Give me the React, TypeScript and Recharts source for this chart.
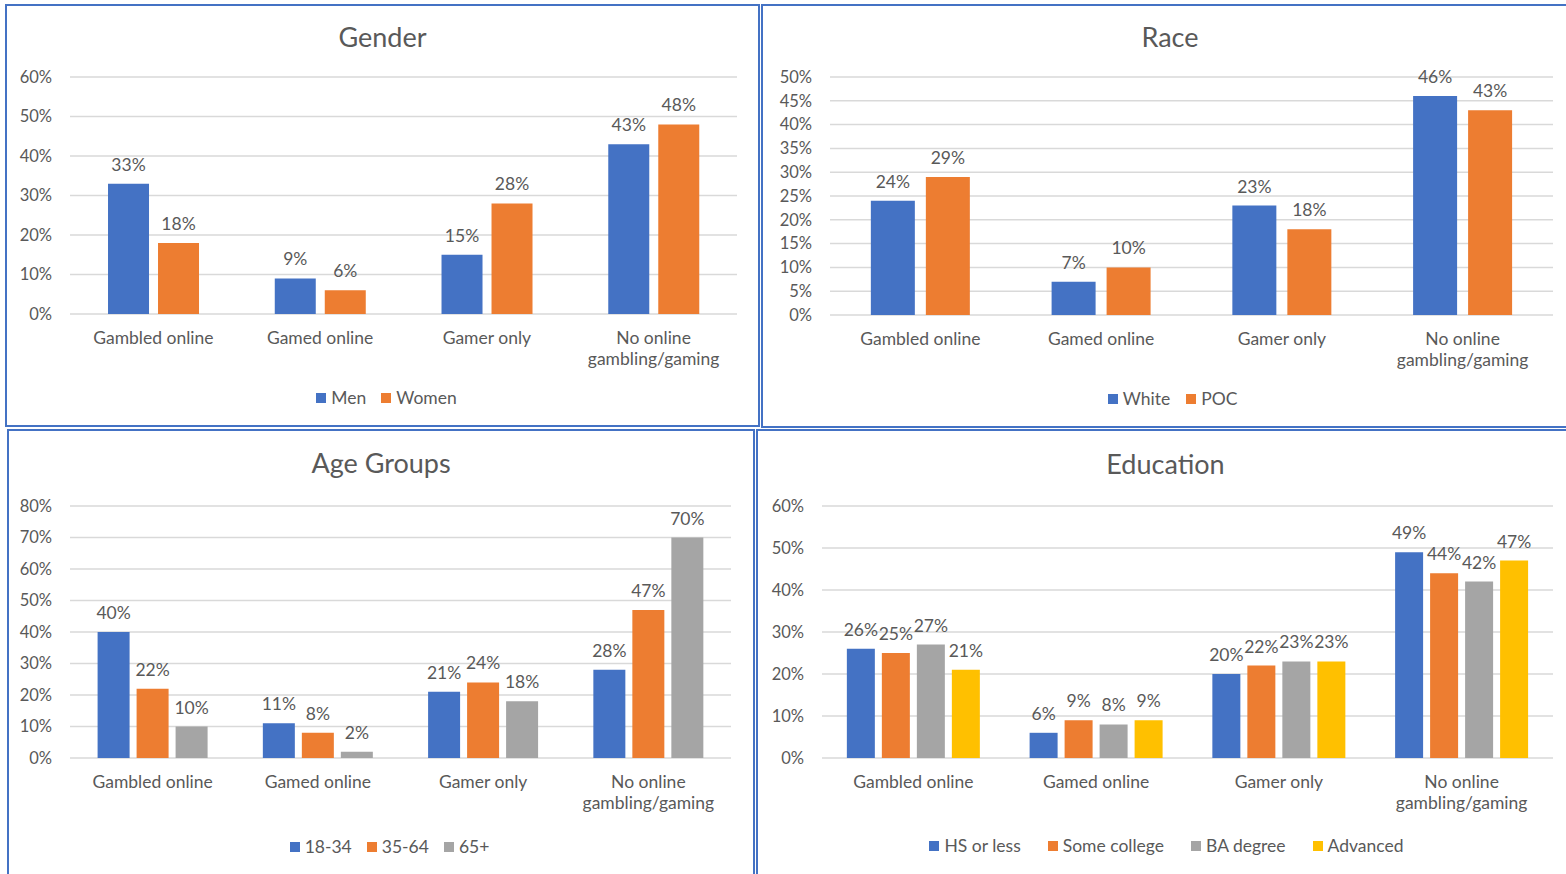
import React from 'react';
import { BarChart, Bar, XAxis, YAxis, CartesianGrid, Legend, LabelList } from 'recharts';

// categories shared by all four panels
const categories = ['Gambled online', 'Gamed online', 'Gamer only', 'No online\ngambling/gaming'];

// Gender
const genderMen = [33, 9, 15, 43];
const genderWomen = [18, 6, 28, 48];
const genderTicks = [0, 10, 20, 30, 40, 50, 60];

// Race
const raceWhite = [24, 7, 23, 46];
const racePoc = [29, 10, 18, 43];
const raceTicks = [0, 5, 10, 15, 20, 25, 30, 35, 40, 45, 50];

// Age groups
const age1834 = [40, 11, 21, 28];
const age3564 = [22, 8, 24, 47];
const age65 = [10, 2, 18, 70];
const ageTicks = [0, 10, 20, 30, 40, 50, 60, 70, 80];

// Education
const eduHs = [26, 6, 20, 49];
const eduSome = [25, 9, 22, 44];
const eduBa = [27, 8, 23, 42];
const eduAdv = [21, 9, 23, 47];
const eduTicks = [0, 10, 20, 30, 40, 50, 60];

const BLUE = '#4472C4';
const ORANGE = '#ED7D31';
const GRAY = '#A5A5A5';
const YELLOW = '#FFC000';
const TEXT = '#595959';
const FONT = 'Lato, "Open Sans", sans-serif';

type Series = { key: string; name: string; color: string; values: number[] };

const buildRows = (series: Series[]) =>
  categories.map((c, i) => {
    const row: Record<string, any> = { category: c };
    series.forEach(s => {
      row[s.key] = s.values[i];
    });
    return row;
  });

const CategoryTick = (props: any) => {
  const { x, y, payload } = props;
  const lines = String(payload.value).split('\n');
  return (
    <text x={x} y={y} textAnchor="middle" fill={TEXT} fontSize={17.5} fontFamily={FONT}>
      {lines.map((l, i) => (
        <tspan key={i} x={x} dy={i === 0 ? 22 : 21}>
          {l}
        </tspan>
      ))}
    </text>
  );
};

interface PanelProps {
  title: string;
  series: Series[];
  ticks: number[];
  box: { left: number; top: number; width: number; height: number };
  border: { left: number; top: number; width: number; height: number };
  margin: { top: number; right: number; left: number; bottom: number };
  titleTop: number;
  titleShift: number;
  legendShift: number;
  legendGap: number;
  xAxisHeight: number;
  catGap: string;
  barGap: number;
}

const Panel: React.FC<PanelProps> = ({
  title,
  series,
  ticks,
  box,
  border,
  margin,
  titleTop,
  titleShift,
  legendShift,
  legendGap,
  xAxisHeight,
  catGap,
  barGap,
}) => {
  const data = buildRows(series);
  return (
    <>
      <div
        style={{
          position: 'absolute',
          left: border.left,
          top: border.top,
          width: border.width,
          height: border.height,
          border: `2px solid ${BLUE}`,
          boxSizing: 'border-box',
        }}
      />
      <div
        style={{
          position: 'absolute',
          left: box.left + titleShift,
          top: titleTop,
          width: box.width,
          textAlign: 'center',
          fontSize: 27,
          color: TEXT,
          fontFamily: FONT,
          lineHeight: '30px',
        }}
      >
        {title}
      </div>
      <div style={{ position: 'absolute', left: box.left, top: box.top }}>
        <BarChart
          width={box.width}
          height={box.height}
          data={data}
          margin={margin}
          barCategoryGap={catGap}
          barGap={barGap}
        >
          <CartesianGrid vertical={false} stroke="#D9D9D9" strokeWidth={1.5} />
          <XAxis
            dataKey="category"
            axisLine={false}
            tickLine={false}
            interval={0}
            height={xAxisHeight}
            tick={<CategoryTick />}
          />
          <YAxis
            width={50}
            domain={[0, ticks[ticks.length - 1]]}
            ticks={ticks}
            interval={0}
            axisLine={false}
            tickLine={false}
            tickMargin={12}
            tickFormatter={(v: number) => `${v}%`}
            tick={{ fill: TEXT, fontSize: 16.5, fontFamily: FONT }}
          />
          <Legend
            verticalAlign="bottom"
            content={() => (
              <div
                style={{
                  display: 'flex',
                  justifyContent: 'center',
                  alignItems: 'center',
                  height: 20,
                  lineHeight: '20px',
                  transform: `translateX(${legendShift}px)`,
                  fontFamily: FONT,
                  fontSize: 17.5,
                  color: TEXT,
                }}
              >
                {series.map((s, i) => (
                  <span
                    key={s.key}
                    style={{ display: 'flex', alignItems: 'center', marginLeft: i === 0 ? 0 : legendGap }}
                  >
                    <span
                      style={{ display: 'inline-block', width: 10, height: 10, background: s.color, marginRight: 5 }}
                    />
                    {s.name}
                  </span>
                ))}
              </div>
            )}
          />
          {series.map(s => (
            <Bar key={s.key} dataKey={s.key} name={s.name} fill={s.color} isAnimationActive={false}>
              <LabelList
                dataKey={s.key}
                position="top"
                offset={13}
                formatter={(v: any) => `${v}%`}
                fill={TEXT}
                fontSize={17.5}
                fontFamily={FONT}
              />
            </Bar>
          ))}
        </BarChart>
      </div>
    </>
  );
};

export default function App() {
  return (
    <div
      style={{
        position: 'absolute',
        left: 0,
        top: 0,
        width: 1566,
        height: 874,
        overflow: 'hidden',
        background: '#fff',
        fontFamily: FONT,
      }}
    >
      <Panel
        title="Gender"
        series={[
          { key: 'men', name: 'Men', color: BLUE, values: genderMen },
          { key: 'women', name: 'Women', color: ORANGE, values: genderWomen },
        ]}
        ticks={genderTicks}
        border={{ left: 5, top: 4, width: 755, height: 423 }}
        box={{ left: 6, top: 5, width: 753, height: 421 }}
        margin={{ top: 72, right: 22, left: 14, bottom: 18 }}
        titleTop={22}
        titleShift={0}
        legendShift={8}
        legendGap={15}
        xAxisHeight={74}
        catGap="22.8%"
        barGap={9}
      />
      <Panel
        title="Race"
        series={[
          { key: 'white', name: 'White', color: BLUE, values: raceWhite },
          { key: 'poc', name: 'POC', color: ORANGE, values: racePoc },
        ]}
        ticks={raceTicks}
        border={{ left: 761, top: 4, width: 812, height: 424 }}
        box={{ left: 762, top: 5, width: 804, height: 422 }}
        margin={{ top: 72, right: 13, left: 18, bottom: 18 }}
        titleTop={22}
        titleShift={6}
        legendShift={6}
        legendGap={16}
        xAxisHeight={74}
        catGap="22.6%"
        barGap={11}
      />
      <Panel
        title="Age Groups"
        series={[
          { key: 'a1', name: '18-34', color: BLUE, values: age1834 },
          { key: 'a2', name: '35-64', color: ORANGE, values: age3564 },
          { key: 'a3', name: '65+', color: GRAY, values: age65 },
        ]}
        ticks={ageTicks}
        border={{ left: 7, top: 429, width: 748, height: 460 }}
        box={{ left: 8, top: 430, width: 746, height: 444 }}
        margin={{ top: 76, right: 23, left: 12, bottom: 17 }}
        titleTop={448}
        titleShift={0}
        legendShift={14}
        legendGap={15}
        xAxisHeight={79}
        catGap="16.7%"
        barGap={7}
      />
      <Panel
        title="Education"
        series={[
          { key: 'e1', name: 'HS or less', color: BLUE, values: eduHs },
          { key: 'e2', name: 'Some college', color: ORANGE, values: eduSome },
          { key: 'e3', name: 'BA degree', color: GRAY, values: eduBa },
          { key: 'e4', name: 'Advanced', color: YELLOW, values: eduAdv },
        ]}
        ticks={eduTicks}
        border={{ left: 756, top: 429, width: 817, height: 460 }}
        box={{ left: 757, top: 430, width: 809, height: 444 }}
        margin={{ top: 76, right: 13, left: 15, bottom: 18 }}
        titleTop={449}
        titleShift={4}
        legendShift={4}
        legendGap={27}
        xAxisHeight={78}
        catGap="13.6%"
        barGap={7}
      />
    </div>
  );
}
